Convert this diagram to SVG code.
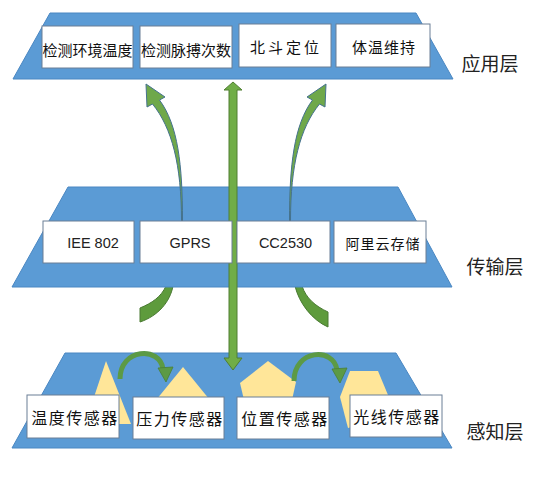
<svg xmlns="http://www.w3.org/2000/svg" width="538" height="499" viewBox="0 0 538 499">
<defs>
<style>
.trap{fill:#5B9BD5;stroke:#4A87C2;stroke-width:1}
.box{fill:#FFFFFF;stroke:#6B7F96;stroke-width:1}
.yel{fill:#FFE699;stroke:none}
.grn{fill:#70AD47;stroke:#507E32;stroke-width:1}
.cur{fill:#6FA84A;stroke:#45728F;stroke-width:1}
.tail{fill:#5E9B3C;stroke:#4A7A33;stroke-width:1}
.arc{fill:none;stroke:#5C9A45;stroke-width:5}
.arch{fill:#5C9A45;stroke:#4A7F36;stroke-width:0.8}
.cn{font-family:"Noto Sans CJK SC","Noto Sans",sans-serif;fill:#111;text-anchor:middle;dominant-baseline:central}
.en{font-family:"Liberation Sans",Arial,sans-serif;font-size:14.5px;fill:#222;text-anchor:middle;dominant-baseline:central}
.lay{font-family:"Noto Sans CJK SC","Noto Sans",sans-serif;font-size:19px;fill:#222;text-anchor:middle;dominant-baseline:central}
</style>
</defs>

<g id="connectors-under">
<path class="tail" d="M166 286 L173 286 C170 302 158 316 140 322 L140 308 C152 303 161 297 166 286 Z"/>
<path class="tail" d="M302 286 L295 286 C299 303 312 320 328 327 L328 312 C315 306 306 298 302 286 Z"/>
</g>

<g id="layer-app">
<polygon class="trap" points="50,13 416,13 453,79 13,79"/>
</g>
<g id="layer-trans">
<polygon class="trap" points="68,187 398,187 452,287 12,287"/>
</g>
<g id="layer-sense">
<polygon class="trap" points="65,353 396,353 452,448 12,448"/>
<polygon class="yel" points="106,361 131,424 85,424"/>
<polygon class="yel" points="183,367 214,405 152,405"/>
<polygon class="yel" points="268,361 296,382 292,400 244,400 240,383"/>
<polygon class="yel" points="350,371 378,371 388,395 380,420 348,428 340,397"/>
</g>

<g id="connectors">
<path class="cur" d="M181.5 221 C181.5 165 172 128 152.5 104 L147 107 L146 84 L165 97 L159.5 100 C178 125 182.5 165 182.5 221 Z"/>
<path class="cur" transform="translate(472,0) scale(-1,1)" d="M181.5 221 C181.5 165 172 128 152.5 104 L147 107 L146 84 L165 97 L159.5 100 C178 125 182.5 165 182.5 221 Z"/>
<path class="grn" d="M233 82 L242 90 L237 90 L237 358 L242 358 L233 370 L224 358 L229 358 L229 90 L224 90 Z"/>
<path class="arc" d="M120 379 C120 348 160 346 163 369"/>
<polygon class="arch" points="166,382 158,368 173,367"/>
<path class="arc" d="M294 381 C294 349 334 347 337 370"/>
<polygon class="arch" points="340,383 332,369 347,368"/>
</g>

<g id="node-app-1"><rect class="box" x="42" y="26" width="91" height="42"/><text class="cn" x="87.5" y="49" font-size="15">检测环境温度</text></g>
<g id="node-app-2"><rect class="box" x="140" y="26" width="92" height="42"/><text class="cn" x="186" y="49" font-size="15">检测脉搏次数</text></g>
<g id="node-app-3"><rect class="box" x="239" y="24" width="92" height="43"/><text class="cn" x="286" y="46" font-size="15" letter-spacing="3">北斗定位</text></g>
<g id="node-app-4"><rect class="box" x="336" y="24" width="94" height="43"/><text class="cn" x="384" y="46" font-size="15" letter-spacing="1">体温维持</text></g>

<g id="node-trans-1"><rect class="box" x="43" y="221" width="91" height="42"/><text class="en" x="93" y="243">IEE 802</text></g>
<g id="node-trans-2"><rect class="box" x="140" y="221" width="92" height="42"/><text class="en" x="190" y="243">GPRS</text></g>
<g id="node-trans-3"><rect class="box" x="237" y="221" width="93" height="42"/><text class="en" x="285.5" y="243">CC2530</text></g>
<g id="node-trans-4"><rect class="box" x="334" y="221" width="92" height="42"/><text class="cn" x="383" y="243" font-size="14" letter-spacing="1">阿里云存储</text></g>

<g id="node-sense-1"><rect class="box" x="27" y="395" width="92" height="43"/><text class="cn" x="75" y="417" font-size="16" letter-spacing="1.5">温度传感器</text></g>
<g id="node-sense-2"><rect class="box" x="133" y="397" width="91" height="42"/><text class="cn" x="180" y="418" font-size="16" letter-spacing="1.5">压力传感器</text></g>
<g id="node-sense-3"><rect class="box" x="237" y="397" width="92" height="42"/><text class="cn" x="285" y="418" font-size="16" letter-spacing="1.5">位置传感器</text></g>
<g id="node-sense-4"><rect class="box" x="350" y="395" width="92" height="42"/><text class="cn" x="397" y="416" font-size="16" letter-spacing="1.5">光线传感器</text></g>

<g id="labels">
<text class="lay" x="490" y="62">应用层</text>
<text class="lay" x="495" y="265">传输层</text>
<text class="lay" x="495" y="430">感知层</text>
</g>
</svg>
